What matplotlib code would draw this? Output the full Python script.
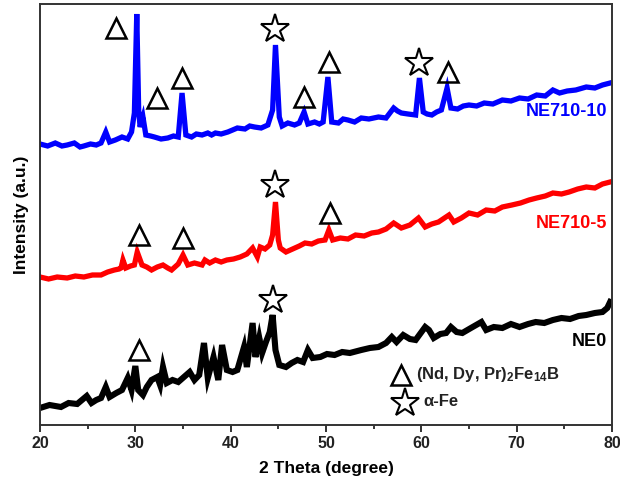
import matplotlib
matplotlib.use("Agg")
import matplotlib.pyplot as plt
import numpy as np

plt.rcParams['font.family'] = ['Liberation Sans', 'DejaVu Sans']
plt.rcParams['mathtext.fontset'] = 'custom'
plt.rcParams['mathtext.rm'] = 'Liberation Sans'
plt.rcParams['mathtext.bf'] = 'Liberation Sans:bold'

# ---- data (2theta in degree, intensity in arbitrary units incl. vertical offset) ----
blue_x = [20.0, 20.8, 21.6, 22.3, 22.85, 23.6, 24.2, 24.6, 25.3, 25.9, 26.4, 26.9, 27.3, 27.9,
          28.6, 29.2, 29.6, 29.9, 30.15, 30.35, 30.5, 30.8, 31.1, 31.6, 32.0, 32.7, 33.4, 34.0,
          34.5, 34.9, 35.3, 35.9, 36.4, 37.0, 37.6, 38.0, 38.4, 39.0, 39.7, 40.2, 40.7, 41.5,
          42.0, 42.5, 43.2, 43.9, 44.4, 44.7, 45.1, 45.4, 46.0, 46.7, 47.2, 47.7, 48.1, 48.8,
          49.3, 49.7, 50.2, 50.6, 51.3, 51.8, 52.3, 53.0, 53.7, 54.5, 55.5, 56.3, 57.1, 57.5,
          57.9, 58.6, 59.4, 59.8, 60.2, 60.6, 61.1, 61.6, 62.1, 62.7, 63.1, 63.8, 64.4, 65.0,
          65.8, 66.6, 67.5, 68.5, 69.4, 70.3, 71.2, 72.1, 73.0, 73.8, 74.5, 75.3, 76.2, 77.3,
          78.2, 79.0, 79.8]
blue_y = [281, 279, 282, 279, 280, 282, 278, 279, 281, 280, 282, 293, 283, 285,
          288, 286, 293, 312, 411, 315, 298, 308, 290, 289, 288, 286, 287, 289,
          288, 332, 290, 288, 291, 290, 292, 290, 292, 291, 293, 295, 297, 296,
          299, 298, 297, 300, 315, 380, 308, 299, 302, 300, 302, 313, 301, 303,
          301, 303, 348, 303, 302, 306, 305, 303, 307, 306, 308, 307, 317, 314,
          312, 311, 310, 347, 313, 311, 310, 313, 315, 337, 317, 316, 319, 320,
          319, 322, 321, 325, 324, 327, 326, 330, 329, 335, 332, 334, 335, 338,
          337, 340, 342]

red_x = [20.0, 20.9, 21.8, 22.85, 23.7, 24.6, 25.5, 26.4, 27.1, 27.8, 28.3, 28.5, 28.7, 29.0,
         29.5, 29.9, 30.2, 30.7, 31.2, 31.7, 32.3, 32.9, 33.4, 33.8, 34.5, 35.0, 35.5, 36.2,
         37.0, 37.3, 37.8, 38.4, 39.0, 39.6, 40.3, 41.0, 41.7, 42.3, 42.8, 43.1, 43.6, 44.1,
         44.4, 44.7, 45.0, 45.2, 45.8, 46.5, 47.2, 47.8, 48.5, 49.2, 49.9, 50.3, 50.7, 51.5,
         52.3, 53.1, 54.0, 54.8, 55.5, 56.3, 57.1, 57.9, 58.8, 59.7, 60.4, 61.1, 61.8, 62.9,
         63.4, 64.2, 65.0, 65.9, 66.8, 67.7, 68.5, 69.5, 70.4, 71.3, 72.1, 73.0, 73.8, 74.7,
         75.5, 76.4, 77.3, 78.2, 79.0, 79.8]
red_y = [148, 146, 148, 147, 149, 148, 150, 150, 153, 155, 156, 157, 165, 157,
         159, 160, 173, 160, 158, 155, 158, 160, 157, 155, 161, 170, 160, 162,
         160, 165, 162, 165, 163, 165, 166, 168, 171, 177, 168, 178, 176, 180,
         190, 223, 185, 177, 173, 176, 179, 182, 181, 184, 185, 195, 185, 187,
         186, 190, 189, 192, 193, 196, 202, 197, 200, 207, 198, 201, 203, 210,
         203, 207, 212, 210, 215, 214, 218, 220, 222, 225, 227, 229, 232, 231,
         233, 236, 238, 237, 241, 243]

black_x = [20.0, 21.0, 22.2, 23.0, 23.9, 24.9, 25.4, 25.9, 26.4, 26.9, 27.3, 28.0, 28.6, 29.2,
           29.6, 30.0, 30.3, 30.8, 31.2, 31.7, 32.3, 32.6, 32.9, 33.3, 33.9, 34.5, 35.1, 35.7,
           36.2, 36.7, 37.2, 37.6, 38.2, 38.7, 39.1, 39.6, 40.2, 40.7, 41.4, 41.7, 42.3, 42.6,
           43.0, 43.3, 43.7, 44.1, 44.4, 44.7, 45.1, 45.8, 46.4, 47.0, 47.6, 48.1, 48.6, 49.4,
           50.1, 50.9, 51.7, 52.5, 53.7, 54.6, 55.5, 56.3, 56.9, 57.4, 58.1, 58.8, 59.4, 60.4,
           60.8, 61.3, 62.0, 62.6, 63.1, 63.7, 64.3, 65.2, 66.3, 66.8, 67.6, 68.5, 69.4, 70.3,
           71.2, 72.0, 72.9, 73.8, 74.7, 75.6, 76.5, 77.3, 78.2, 79.0, 79.5, 79.8]
black_y = [17, 20, 18, 22, 21, 29, 22, 25, 27, 38, 28, 32, 35, 47,
           35, 59, 35, 30, 38, 45, 48, 40, 58, 42, 45, 43, 48, 53,
           45, 50, 82, 47, 68, 45, 80, 55, 53, 55, 78, 58, 102, 68,
           87, 72, 83, 93, 110, 75, 60, 58, 62, 65, 63, 75, 67, 68,
           71, 70, 73, 72, 75, 77, 78, 82, 88, 83, 90, 86, 85, 98,
           95, 87, 91, 92, 98, 93, 92, 97, 103, 95, 98, 97, 101, 98,
           101, 103, 102, 105, 107, 106, 109, 110, 112, 113, 117, 123]

series_labels = ["NE710-10", "NE710-5", "NE0"]
series_colors = ["#0000ff", "#ff0000", "#000000"]

# annotation marker positions (2theta, height)
tri_marks_x = [28.0, 32.3, 34.9, 47.7, 50.3, 62.8, 30.4, 35.0, 50.4, 30.4]
tri_marks_y = [397, 327, 347, 328, 363, 353, 190, 187, 212, 75]
star_marks_x = [44.7, 59.8, 44.7, 44.4]
star_marks_y = [396, 362, 240, 125]

xticks = [20, 30, 40, 50, 60, 70, 80]

fig = plt.figure(figsize=(6.2, 4.91), dpi=100)
ax = fig.add_axes([40/620, (491-425)/491, (612-40)/620, (425-4)/491])

lws = [3.8, 3.8, 4.4]
for xs, ys, c, lw in zip([blue_x, red_x, black_x], [blue_y, red_y, black_y], series_colors, lws):
    ax.plot(xs, ys, color=c, lw=lw, solid_joinstyle='miter')

ax.plot(tri_marks_x, tri_marks_y, ls='none', marker='^', ms=15, mfc='none', mec='black', mew=1.8)
ax.plot(star_marks_x, star_marks_y, ls='none', marker='*', ms=21, mfc='none', mec='black', mew=1.5)

ax.set_xlim(20, 80)
ax.set_ylim(0, 421)
ax.set_xticks(xticks)
ax.set_xticks(np.arange(25, 80, 10), minor=True)
ax.set_yticks([])
ax.tick_params(axis='x', which='major', direction='out', length=5, width=1.3, labelsize=11.5, colors='#222222', pad=3)
ax.tick_params(axis='x', which='minor', direction='out', length=3, width=1.1)
for lab in ax.get_xticklabels():
    lab.set_fontweight('bold')
for s in ax.spines.values():
    s.set_linewidth(1.4)
    s.set_color('#333333')

ax.set_xlabel('2 Theta (degree)', fontsize=12.5, fontweight='bold', labelpad=7)
ax.set_ylabel('Intensity (a.u.)', fontsize=12.5, fontweight='bold', labelpad=8)

label_y = [313, 201, 84]
for lab, c, ly in zip(series_labels, series_colors, label_y):
    ax.text(79.5, ly, lab, color=c, fontsize=13, fontweight='bold', ha='right', va='center')

# legend-like annotation
ax.plot([57.9], [50], ls='none', marker='^', ms=15, mfc='none', mec='black', mew=1.8)
ax.plot([58.3], [22], ls='none', marker='*', ms=21, mfc='none', mec='black', mew=1.5)
ax.text(59.4, 50, r'(Nd, Dy, Pr)$\mathbf{_2}$Fe$\mathbf{_{14}}$B', fontsize=12, fontweight='bold', va='center', ha='left', color='#222222')
ax.text(60.2, 24, 'α-Fe', fontsize=12, fontweight='bold', va='center', ha='left', color='#222222')

fig.savefig('out.png', dpi=100)
